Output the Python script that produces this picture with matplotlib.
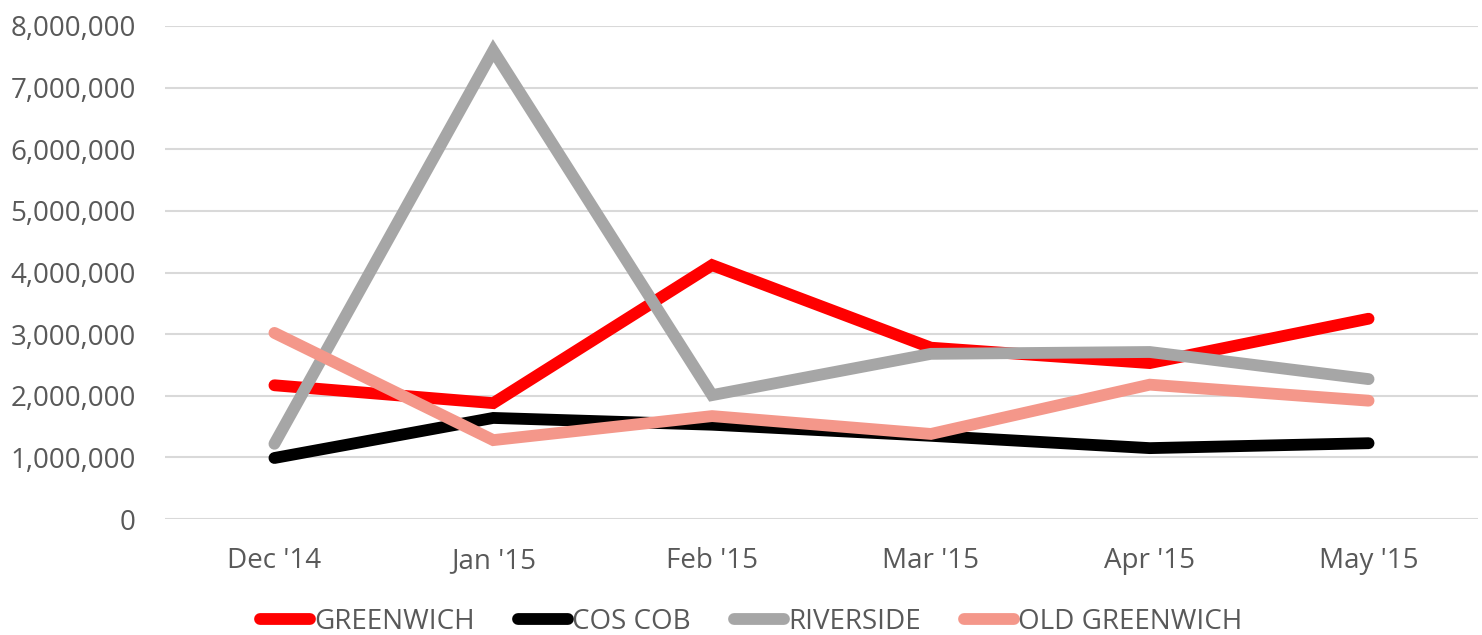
import matplotlib
matplotlib.use("Agg")
import matplotlib.pyplot as plt
from matplotlib.ticker import FuncFormatter, MultipleLocator

months = ["Dec '14", "Jan '15", "Feb '15", "Mar '15", "Apr '15", "May '15"]
greenwich = [2170000, 1880000, 4120000, 2780000, 2530000, 3250000]
cos_cob = [990000, 1640000, 1530000, 1350000, 1150000, 1230000]
riverside = [1220000, 7600000, 2010000, 2680000, 2710000, 2270000]
old_greenwich = [3020000, 1280000, 1670000, 1380000, 2180000, 1920000]

series = [
    ("GREENWICH", greenwich, "#ff0000"),
    ("COS COB", cos_cob, "#000000"),
    ("RIVERSIDE", riverside, "#a6a6a6"),
    ("OLD GREENWICH", old_greenwich, "#f4978a"),
]

plt.rcParams['font.family'] = ['Open Sans', 'DejaVu Sans']
W, H = 1482, 635
fig = plt.figure(figsize=(W / 100, H / 100), dpi=100)
ax = fig.add_axes([165 / W, 1 - 519 / H, (1478 - 165) / W, (519 - 26) / H])

x = list(range(len(months)))
for name, vals, col in series:
    ax.plot(x, vals, color=col, lw=8.5, solid_capstyle='round', solid_joinstyle='miter', label=name)

ax.set_xlim(-0.5, len(months) - 0.5)
ax.set_ylim(0, 8000000)
ax.yaxis.set_major_locator(MultipleLocator(1000000))
ax.yaxis.set_major_formatter(FuncFormatter(lambda v, p: f"{int(v):,}"))
ax.set_xticks(x)
ax.set_xticklabels(months)
ax.grid(axis='y', color='#d9d9d9', lw=1.5)
ax.set_axisbelow(True)
for s in ax.spines.values():
    s.set_visible(False)
ax.tick_params(axis='both', length=0, colors='#595959', labelsize=20)
ax.tick_params(axis='y', pad=21)
ax.tick_params(axis='x', pad=20)

leg = fig.legend(loc='center', bbox_to_anchor=(751 / W, 1 - 622 / H), ncol=4, frameon=False,
                 fontsize=20, handlelength=1.8, handletextpad=0.15, columnspacing=1.55,
                 labelcolor='#595959')

fig.savefig("out.png", dpi=100)
